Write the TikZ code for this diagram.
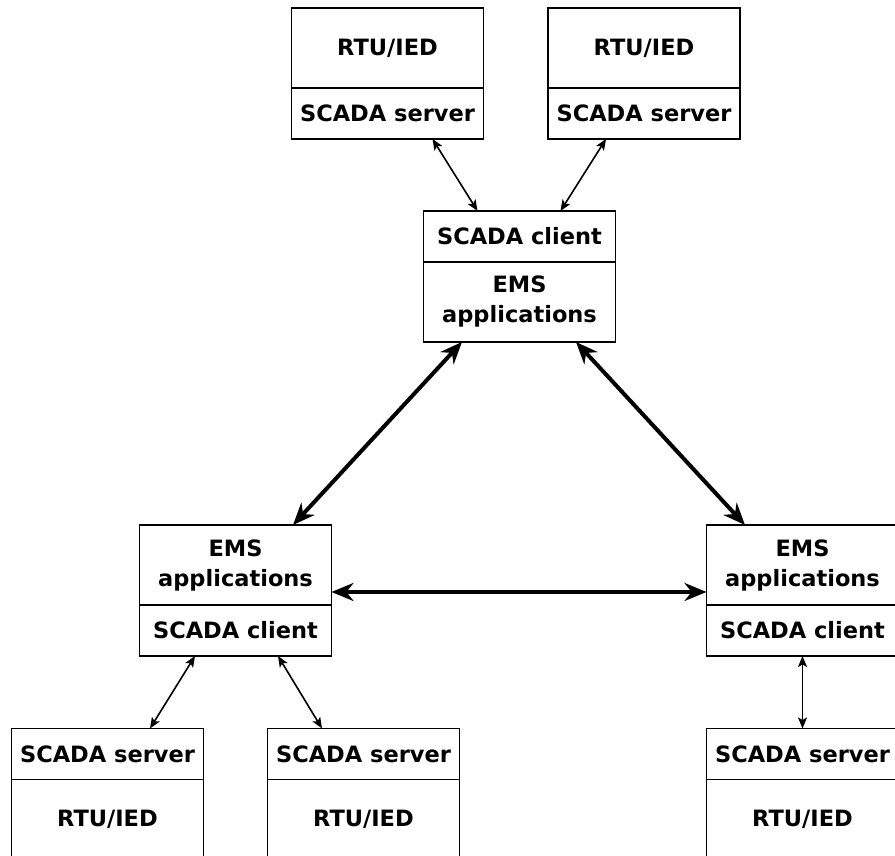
\documentclass[tikz,border=0pt]{standalone}
\usepackage{fontspec}
\setmainfont{DejaVu Sans}
\usetikzlibrary{arrows.meta,positioning}

\begin{document}
\begin{tikzpicture}[x=1pt,y=1pt,
                    part/.style={draw,line width=1.8pt,minimum width=192pt,inner sep=2pt,
                                 outer sep=0pt,align=center,
                                 font=\fontsize{22.5}{30}\selectfont\bfseries},
                    tall/.style={part,minimum height=80pt},
                    short/.style={part,minimum height=51pt},
                    link/.style={{Stealth[length=11pt,width=9pt,inset=2.5pt]}-{Stealth[length=11pt,width=9pt,inset=2.5pt]},
                                 line width=1.6pt},
                    trunk/.style={{Stealth[length=22pt,width=18pt]}-{Stealth[length=22pt,width=18pt]},
                                  line width=4pt}]

  \useasboundingbox (0,0) rectangle (895,856);

  % top: field devices
  \node[tall,anchor=north] (tlrtu) at (387.5,848) {RTU/IED};
  \node[short,below=0pt of tlrtu] (tlsrv) {SCADA server};
  \node[tall,anchor=north] (trrtu) at (644,848) {RTU/IED};
  \node[short,below=0pt of trrtu] (trsrv) {SCADA server};

  % control centres
  \node[short,anchor=north] (ccli) at (519.5,645) {SCADA client};
  \node[tall,below=0pt of ccli] (cems) {EMS\\applications};

  \node[tall,anchor=north] (lems) at (235.5,331) {EMS\\applications};
  \node[short,below=0pt of lems] (lcli) {SCADA client};
  \node[tall,anchor=north] (rems) at (802.5,331) {EMS\\applications};
  \node[short,below=0pt of rems] (rcli) {SCADA client};

  % bottom: field devices
  \node[short,anchor=north] (blsrv) at (107.5,127.5) {SCADA server};
  \node[tall,below=0pt of blsrv] (blrtu) {RTU/IED};
  \node[short,anchor=north] (bmsrv) at (363.5,127.5) {SCADA server};
  \node[tall,below=0pt of bmsrv] (bmrtu) {RTU/IED};
  \node[short,anchor=north] (brsrv) at (802.5,127.5) {SCADA server};
  \node[tall,below=0pt of brsrv] (brrtu) {RTU/IED};

  \draw[link] ([xshift=45pt]tlsrv.south) -- ([xshift=-42pt]ccli.north);
  \draw[link] ([xshift=-38pt]trsrv.south) -- ([xshift=41pt]ccli.north);

  \draw[trunk] ([xshift=-57.5pt]cems.south) -- ([xshift=57.5pt]lems.north);
  \draw[trunk] ([xshift=56.5pt]cems.south) -- ([xshift=-57.5pt]rems.north);
  \draw[trunk] ([yshift=13pt]lems.south east) -- ([yshift=13pt]rems.south west);

  \draw[link] ([xshift=-40.5pt]lcli.south) -- ([xshift=42.5pt]blsrv.north);
  \draw[link] ([xshift=42.5pt]lcli.south) -- ([xshift=-41.5pt]bmsrv.north);
  \draw[link] (rcli.south) -- (brsrv.north);

\end{tikzpicture}
\end{document}
